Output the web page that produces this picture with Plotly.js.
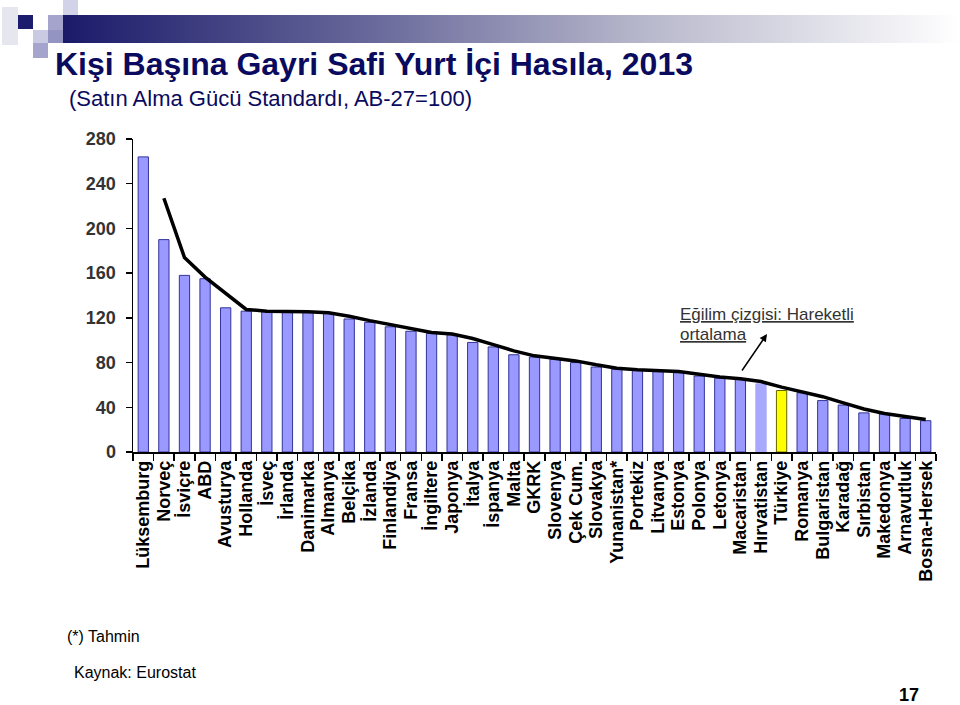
<!DOCTYPE html>
<html>
<head>
<meta charset="utf-8">
<script src="https://cdn.plot.ly/plotly-3.0.1.min.js"></script>
<style>
  html, body { margin: 0; padding: 0; background: #fff; }
  #wrap { position: relative; width: 960px; height: 705px; overflow: hidden; }
  #chart { position: absolute; left: 0; top: 0; width: 960px; height: 705px; }
  .sq { position: absolute; }
</style>
</head>
<body>
<div id="wrap">
  <!-- slide header decoration -->
  <div class="sq" style="left:2px;top:7px;width:16px;height:38px;background:#e6e6ef;"></div>
  <div class="sq" style="left:18px;top:15px;width:15px;height:14px;background:#1c1c6c;"></div>
  <div class="sq" style="left:63px;top:0px;width:15px;height:15px;background:#d2d2e8;"></div>
  <div class="sq" style="left:48px;top:15px;width:15px;height:15px;background:#a4a4cc;"></div>
  <div class="sq" style="left:33px;top:30px;width:15px;height:13px;background:#cacae2;"></div>
  <div class="sq" style="left:48px;top:30px;width:15px;height:13px;background:#9494c2;"></div>
  <div class="sq" style="left:33px;top:43px;width:15px;height:15px;background:#a4a4cc;"></div>
  <div class="sq" style="left:63px;top:15px;width:897px;height:28px;background:linear-gradient(to right,#1a1a6a 0%,#6a6a9c 35%,#b8b8cc 65%,#ffffff 100%);"></div>
  <div id="chart"></div>
</div>
<script>
// Kişi başına GSYİH, 2013 (SAGS, AB-27=100)
const countries = [
  'Lüksemburg', 'Norveç', 'İsviçre', 'ABD', 'Avusturya', 'Hollanda', 'İsveç', 'İrlanda',
  'Danimarka', 'Almanya', 'Belçika', 'İzlanda', 'Finlandiya', 'Fransa', 'İngiltere', 'Japonya',
  'İtalya', 'İspanya', 'Malta', 'GKRK', 'Slovenya', 'Çek Cum.', 'Slovakya', 'Yunanistan*',
  'Portekiz', 'Litvanya', 'Estonya', 'Polonya', 'Letonya', 'Macaristan', 'Hırvatistan', 'Türkiye',
  'Romanya', 'Bulgaristan', 'Karadağ', 'Sırbistan', 'Makedonya', 'Arnavutluk', 'Bosna-Hersek'
];

const gdpIndex = [
  264, 190, 158, 155, 129, 126, 126, 126,
  125, 124, 119, 116, 112, 108, 106, 105,
  98, 94, 87, 85, 83, 80, 76, 74,
  73, 73, 71, 68, 66, 65, 61, 55,
  53, 46, 42, 35, 34, 30, 28
];

// trend line (hareketli ortalama)
const trend = [
  null, 227, 174, 156.5, 142, 127.5, 126, 126,
  125.5, 124.5, 121.5, 117.5, 114, 110, 107, 105.5,
  101.5, 96, 90.5, 86, 84, 81.5, 78, 75,
  73.5, 73, 72, 69.5, 67, 65.5, 63, 58,
  54, 49.5, 44, 38.5, 34.5, 32, 29
];

const yTicks = [0, 40, 80, 120, 160, 200, 240, 280];

const SANS = 'Arial, "Liberation Sans", sans-serif';

// bar colours: Türkiye highlighted, Hırvatistan lighter
const barColors = countries.map((c) => {
  if (c === 'Türkiye') return '#ffff00';
  if (c === 'Hırvatistan') return '#a8a8ff';
  return '#9999ff';
});
const barLines = countries.map((c) => {
  if (c === 'Türkiye') return '#666600';
  if (c === 'Hırvatistan') return '#a8a8ff';
  return '#333399';
});

const traces = [
  {
    type: 'bar',
    x: countries,
    y: gdpIndex,
    marker: { color: barColors, line: { color: barLines, width: 1 } },
    hoverinfo: 'x+y',
  },
  {
    type: 'scatter',
    mode: 'lines',
    x: countries,
    y: trend,
    line: { color: '#000000', width: 3.5 },
    connectgaps: false,
    hoverinfo: 'skip',
  },
];

// paper coords from slide pixels (plot area 133..936 x 139..452)
const px = (x) => (x - 133) / 803;
const py = (y) => (452 - y) / 313;

const note = (text, x, y, size, extra = {}) => ({
  text,
  xref: 'paper', yref: 'paper',
  x: px(x), y: py(y),
  xanchor: 'left', yanchor: 'middle',
  showarrow: false,
  font: { family: SANS, size, color: '#000' },
  ...extra,
});

const layout = {
  width: 960,
  height: 705,
  margin: { l: 133, r: 24, t: 139, b: 253 },
  paper_bgcolor: 'rgba(0,0,0,0)',
  plot_bgcolor: 'rgba(0,0,0,0)',
  showlegend: false,
  bargap: 0.5,
  title: {
    text: '<b>Kişi Başına Gayri Safi Yurt İçi Hasıla, 2013</b>',
    font: { family: SANS, size: 32, color: '#0a0a5e' },
    xref: 'container',
    yref: 'container',
    x: 55 / 960,
    xanchor: 'left',
    y: 1 - 64 / 705,
    yanchor: 'middle',
  },
  xaxis: {
    type: 'category',
    tickmode: 'array',
    tickvals: countries,
    ticktext: countries.map((c) => `<b>${c}</b>`),
    tickangle: -90,
    tickfont: { family: SANS, size: 18, color: '#000' },
    ticks: 'outside',
    tickson: 'boundaries',
    ticklen: 7,
    tickwidth: 1.5,
    tickcolor: '#000',
    showline: true,
    linecolor: '#000',
    linewidth: 1.5,
    showgrid: false,
    zeroline: false,
    fixedrange: true,
  },
  yaxis: {
    range: [0, 280],
    tickvals: yTicks,
    ticktext: yTicks.map((v) => `<b>${v}</b>`),
    tickfont: { family: SANS, size: 18, color: '#333' },
    ticks: 'outside',
    ticklen: 6,
    tickwidth: 1.5,
    tickcolor: '#000',
    ticklabelstandoff: 6,
    showline: true,
    linecolor: '#000',
    linewidth: 1.5,
    showgrid: false,
    zeroline: false,
    fixedrange: true,
  },
  annotations: [
    note('(Satın Alma Gücü Standardı, AB-27=100)', 67, 99, 22, { font: { family: SANS, size: 22, color: '#0a0a5e' } }),
    note('<u>Eğilim çizgisi: Hareketli</u>', 678, 314, 17, { font: { family: SANS, size: 17, color: '#333' } }),
    note('<u>ortalama</u>', 678, 334, 17, { font: { family: SANS, size: 17, color: '#333' } }),
    {
      // arrow from the trend line up to the label
      text: '',
      xref: 'paper', yref: 'paper',
      x: px(767), y: py(334),
      ax: -26, ay: 38,
      showarrow: true,
      arrowhead: 2, arrowsize: 1, arrowwidth: 1.5, arrowcolor: '#000',
    },
    note('(*) Tahmin', 65, 636, 16),
    note('Kaynak: Eurostat', 72, 672, 16),
    note('<b>17</b>', 897, 695, 18),
  ],
};

Plotly.newPlot('chart', traces, layout, { displayModeBar: false, staticPlot: true });
</script>
</body>
</html>
